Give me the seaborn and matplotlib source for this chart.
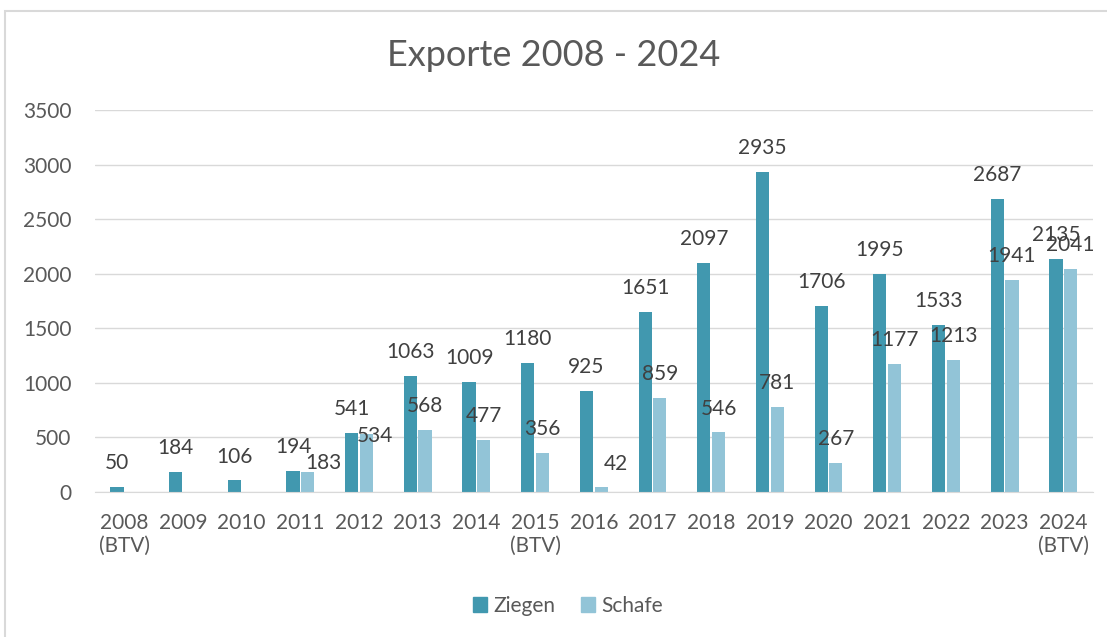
import numpy as np
import pandas as pd
import seaborn as sns
import matplotlib.pyplot as plt
from matplotlib.patches import Patch, Rectangle

jahre = ['2008\n(BTV)', '2009', '2010', '2011', '2012', '2013', '2014', '2015\n(BTV)',
         '2016', '2017', '2018', '2019', '2020', '2021', '2022', '2023', '2024\n(BTV)']
ziegen = [50, 184, 106, 194, 541, 1063, 1009, 1180, 925, 1651, 2097, 2935, 1706, 1995, 1533, 2687, 2135]
schafe = [np.nan, np.nan, np.nan, 183, 534, 568, 477, 356, 42, 859, 546, 781, 267, 1177, 1213, 1941, 2041]

farben = {'Ziegen': '#4198AF', 'Schafe': '#92C4D7'}

df = pd.DataFrame({'Jahr': jahre, 'Ziegen': ziegen, 'Schafe': schafe})
df = df.melt(id_vars='Jahr', var_name='Tierart', value_name='Anzahl')

sns.set_style('white')
plt.rcParams['font.family'] = ['Lato', 'DejaVu Sans']

fig = plt.figure(figsize=(11.07, 6.37), dpi=100)
ax = fig.add_axes([0.0858, 0.2276, 0.9012, 0.5997])

sns.barplot(data=df, x='Jahr', y='Anzahl', hue='Tierart', order=jahre,
            hue_order=['Ziegen', 'Schafe'], palette=farben, errorbar=None,
            width=0.5, gap=0.1, linewidth=0, saturation=1, ax=ax, legend=False)

# Excel schiebt ein paar Beschriftungen zur Seite (in Pixel: dx, dy nach unten)
verschiebung = {('Schafe', '2011'): (16, 15), ('Schafe', '2012'): (9, 26),
                ('Schafe', '2016'): (15, 0)}

for tier, c in zip(['Ziegen', 'Schafe'], ax.containers):
    for bar, wert in zip(c, c.datavalues):
        if np.isnan(wert):
            continue
        jahr = jahre[int(round(bar.get_x() + bar.get_width() / 2))]
        dx, dy = verschiebung.get((tier, jahr), (0, 0))
        ax.annotate(f'{int(wert)}', (bar.get_x() + bar.get_width() / 2, bar.get_height()),
                    xytext=(dx * 0.72, 10 - dy * 0.72), textcoords='offset points',
                    ha='center', va='bottom', fontsize=15, color='#404040')

ax.set_ylim(0, 3500)
ax.set_yticks(range(0, 3501, 500))
ax.set_xlim(-0.5, len(jahre) - 0.5)
ax.yaxis.grid(True, color='#D9D9D9', linewidth=1)
ax.set_axisbelow(True)
for s in ['top', 'right', 'left']:
    ax.spines[s].set_visible(False)
ax.spines['bottom'].set_color('#D9D9D9')
ax.tick_params(axis='both', length=0, labelsize=15, labelcolor='#595959')
ax.tick_params(axis='x', pad=15)
ax.tick_params(axis='y', pad=17)
ax.set_xlabel('')
ax.set_ylabel('')

fig.text(0.5, 1 - 55 / 637, 'Exporte 2008 - 2024', ha='center', va='center',
         fontsize=26, color='#595959')

handles = [Patch(color=farben[k], label=k) for k in ['Ziegen', 'Schafe']]
fig.legend(handles=handles, loc='center', bbox_to_anchor=(0.513, 1 - 606 / 637), ncol=2,
           frameon=False, fontsize=15, labelcolor='#595959', handlelength=0.7,
           handleheight=0.7, handletextpad=0.3, columnspacing=1.2)

fig.patches.append(Rectangle((5 / 1107, -0.1), 1.2, 1 - 10.5 / 637 + 0.1,
                             transform=fig.transFigure, fill=False,
                             edgecolor='#D9D9D9', linewidth=1.5))

fig.savefig('out.png', dpi=100)
